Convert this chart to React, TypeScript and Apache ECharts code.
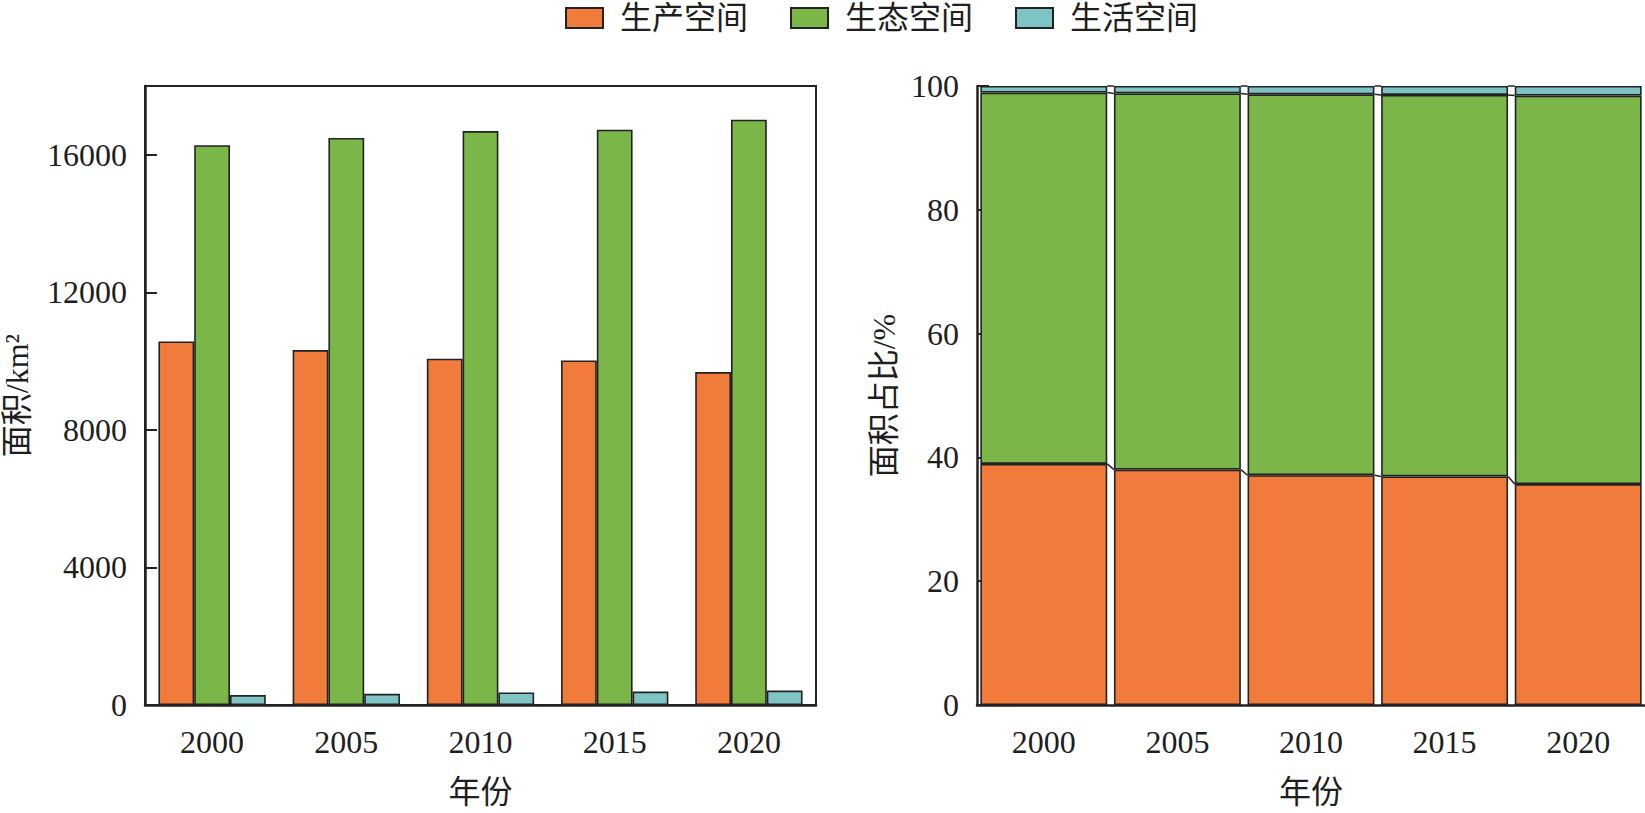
import React, { useEffect, useRef } from "react";
import * as echarts from "echarts";

const years = ["2000", "2005", "2010", "2015", "2020"];
const seriesNames = ["生产空间", "生态空间", "生活空间"];
const production = [10570, 10320, 10070, 10020, 9680];
const ecological = [16280, 16490, 16690, 16730, 17020];
const living = [290, 325, 365, 390, 420];
const colors = ["#F07B3A", "#7AB748", "#7FC4C5"];

const FONT = "'Liberation Serif', 'Times New Roman', 'Noto Sans CJK SC', serif";
const INK = "#1e1e1e";

export default function App() {
  const ref = useRef<HTMLDivElement>(null);
  useEffect(() => {
    if (!ref.current) return;
    const chart = echarts.init(ref.current, undefined, { renderer: "svg" });
    const totals = years.map((_, i) => production[i] + ecological[i] + living[i]);
    const pct = [production, ecological, living].map((arr) =>
      arr.map((v, i) => (v / totals[i]) * 100)
    );
    const b1 = pct[0];
    const b2 = pct[0].map((v, i) => v + pct[1][i]);
    const b3 = b2.map((v, i) => v + pct[2][i]);
    const linkData: number[][] = [];
    for (let i = 0; i < years.length - 1; i++) {
      linkData.push([i, b1[i], b1[i + 1]]);
      linkData.push([i, b2[i], b2[i + 1]]);
      linkData.push([i, b3[i], b3[i + 1]]);
    }
    const rightGap = 0.05;
    const itemStyle = (c: string) => ({ color: c, borderColor: "#222", borderWidth: 1.6 });
    const axisText = { color: INK, fontSize: 32, fontFamily: FONT };
    const nameStyle = { fontSize: 32, fontFamily: FONT, color: INK };
    const option: any = {
      animation: false,
      textStyle: { fontFamily: FONT, color: INK },
      legend: {
        data: seriesNames,
        left: 565,
        top: 2,
        padding: 0,
        itemWidth: 37,
        itemHeight: 20,
        itemGap: 42,
        icon: "rect",
        textStyle: { fontSize: 32, fontFamily: FONT, color: INK, padding: [0, 0, 0, 12] },
      },
      grid: [
        { left: 145, top: 86, width: 671, height: 627, show: true, borderColor: "#222", borderWidth: 2 },
        { left: 977, top: 86, width: 670, height: 627 },
      ],
      xAxis: [0, 1].map((g) => ({
        type: "category", gridIndex: g, data: years,
        name: "年份", nameLocation: "middle", nameGap: 71,
        nameTextStyle: nameStyle,
        axisLine: { lineStyle: { color: "#222", width: 2.5 } },
        axisTick: { show: false },
        axisLabel: { ...axisText, margin: 21 },
      })),
      yAxis: [
        {
          type: "value", gridIndex: 0, min: 0, max: 18000, interval: 4000,
          name: "面积/km²", nameLocation: "middle", nameGap: 112,
          nameTextStyle: nameStyle,
          axisLine: { show: true, lineStyle: { color: "#222", width: 2.5 } },
          axisTick: { show: true, inside: true, length: 12, lineStyle: { color: "#222", width: 2 } },
          axisLabel: { ...axisText, margin: 18, showMaxLabel: false, formatter: (v: number) => String(v) },
          splitLine: { show: false },
        },
        {
          type: "value", gridIndex: 1, min: 0, max: 100, interval: 20,
          name: "面积占比/%", nameLocation: "middle", nameGap: 77,
          nameTextStyle: nameStyle,
          axisLine: { show: true, lineStyle: { color: "#222", width: 2.5 } },
          axisTick: { show: true, inside: true, length: 12, lineStyle: { color: "#222", width: 2 } },
          axisLabel: { ...axisText, margin: 18, formatter: (v: number) => String(v) },
          splitLine: { show: false },
        },
      ],
      series: [
        ...[production, ecological, living].map((arr, k) => ({
          type: "bar", name: seriesNames[k], xAxisIndex: 0, yAxisIndex: 0,
          data: arr, barGap: "0%", barCategoryGap: "20%",
          itemStyle: itemStyle(colors[k]),
        })),
        ...pct.map((arr, k) => ({
          type: "bar", name: seriesNames[k], xAxisIndex: 1, yAxisIndex: 1,
          stack: "pct", data: arr, barCategoryGap: rightGap * 100 + "%",
          itemStyle: itemStyle(colors[k]),
        })),
        {
          type: "custom", name: "links", xAxisIndex: 1, yAxisIndex: 1, z: 5,
          data: linkData,
          encode: { x: 0, y: 1 },
          renderItem: (params: any, api: any) => {
            const i = api.value(0);
            const p1 = api.coord([i, api.value(1)]);
            const p2 = api.coord([i + 1, api.value(2)]);
            const band = api.size([1, 0])[0];
            const half = (band * (1 - rightGap)) / 2;
            return {
              type: "line",
              shape: { x1: p1[0] + half, y1: p1[1], x2: p2[0] - half, y2: p2[1] },
              style: { stroke: "#222", lineWidth: 1.5 },
            };
          },
        },
      ],
    };
    chart.setOption(option);
    return () => chart.dispose();
  }, []);
  return (
    <div
      ref={ref}
      style={{ position: "absolute", left: 0, top: 0, width: 1645, height: 813, background: "#fff" }}
    />
  );
}
